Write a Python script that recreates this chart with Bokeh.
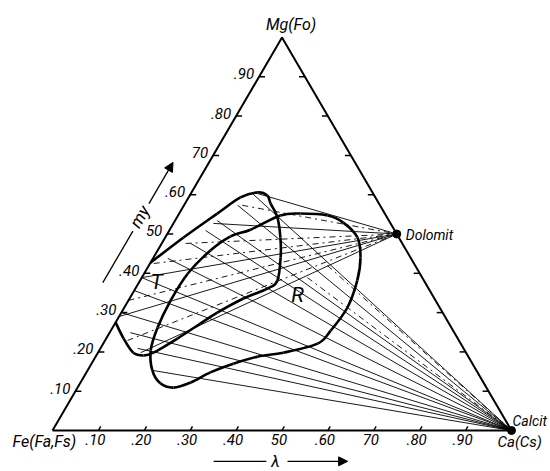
import math
from bokeh.plotting import figure
from bokeh.models import Arrow, NormalHead
from bokeh.core.properties import value
from bokeh.embed import file_html
from bokeh.resources import INLINE

# ---------------- data (percent Ca, percent Mg) ----------------
T_ca = [0, 4.0, 8.3, 11.3, 14.4, 16.9, 18.6, 21.9, 25.1, 27.7, 29.9, 28.8, 24.8,
        20.9, 18.6, 15.5, 12.1, 10.3, 7.7, 3.8, 0]
T_mg = [42.7, 49.1, 55.2, 59.3, 60.6, 59.8, 57.8, 54.2, 49.1, 44.0, 38.2, 36.1, 33.6,
        30.0, 27.2, 23.4, 19.8, 19.1, 19.8, 23.4, 27.5]

R_ca = [17.6, 22.3, 26.4, 32.6, 36.9, 41.9, 45.1, 47.3, 48.6, 47.9, 46.7, 40.4, 35.3,
        30.9, 27.0, 24.0, 20.9, 17.5, 14.1, 11.2, 9.8, 9.2, 9.5, 11.5, 14.1]
R_mg = [51.1, 54.7, 55.2, 54.7, 52.9, 49.1, 44.0, 38.2, 31.3, 25.4, 22.1, 19.8, 18.8,
        17.0, 14.8, 12.2, 10.9, 12.0, 15.3, 20.4, 26.2, 33.1, 39.9, 45.8, 49.4]

# tie lines to calcite
calcit_tie_ca = [13.4, 11.7, 9.2, 7.9, 6.3, 3.2, 0, 0, 0, 4.5, 8.1, 14.1, 36.1, 38.9]
calcit_tie_mg = [60.3, 57.3, 53.4, 50.9, 47.6, 43.8, 38.9, 35.6, 30.0, 24.9, 20.9, 15.3, 38.9, 42.0]
# tie lines to dolomite
dolomit_tie_ca = [14.5, 12.7, 8.7, 5.2, 0.8, 0, 0, 0, 4.9, 9.3]
dolomit_tie_mg = [60.3, 57.3, 52.7, 47.6, 42.5, 38.9, 33.1, 29.0, 22.9, 19.8]

DOLOMIT = (50.0, 50.0)   # (Ca, Mg)
CALCIT = (100.0, 0.0)

left_ticks = [10, 20, 30, 40, 50, 60, 70, 80, 90]
left_labels = [".10", ".20", ".30", ".40", "50", ".60", "70", ".80", ".90"]
bottom_ticks = [10, 20, 30, 40, 50, 60, 70, 80, 90]
bottom_labels = [".10", ".20", ".30", ".40", "50", ".60", "70", ".80", ".90"]
right_ticks = [10, 20, 30, 40, 60, 70, 80, 90]

# ---------------- helpers ----------------
S = math.sqrt(3) / 2

def tern(ca, mg):
    return ca + mg / 2.0, mg * S

def to_xy(cas, mgs):
    pts = [tern(c, m) for c, m in zip(cas, mgs)]
    return [p[0] for p in pts], [p[1] for p in pts]

def bezier_segments(xs, ys, closed):
    n = len(xs)
    P = list(zip(xs, ys))
    def get(i):
        if closed:
            return P[i % n]
        return P[min(max(i, 0), n - 1)]
    segs = dict(x0=[], y0=[], x1=[], y1=[], cx0=[], cy0=[], cx1=[], cy1=[])
    rng = range(n) if closed else range(n - 1)
    for i in rng:
        p0, p1, p2, p3 = get(i - 1), get(i), get(i + 1), get(i + 2)
        segs["x0"].append(p1[0]); segs["y0"].append(p1[1])
        segs["x1"].append(p2[0]); segs["y1"].append(p2[1])
        segs["cx0"].append(p1[0] + (p2[0] - p0[0]) / 6)
        segs["cy0"].append(p1[1] + (p2[1] - p0[1]) / 6)
        segs["cx1"].append(p2[0] - (p3[0] - p1[0]) / 6)
        segs["cy1"].append(p2[1] - (p3[1] - p1[1]) / 6)
    return segs

# ---------------- figure ----------------
PX_X = 4.59
PX_Y = 393 / 86.6025
W, H = 550, 471
x0 = -52 / PX_X
y1 = 430 / PX_Y
p = figure(width=W, height=H, x_range=(x0, x0 + W / PX_X), y_range=(y1 - H / PX_Y, y1),
           min_border=0, toolbar_location=None, output_backend="svg",
           x_axis_location=None, y_axis_location=None)
p.grid.visible = False
p.outline_line_color = None
p.background_fill_color = "white"

FONT = value("Roboto")

# tie lines
cx, cy = tern(*CALCIT)
dx, dy = tern(*DOLOMIT)
txs, tys = to_xy(calcit_tie_ca, calcit_tie_mg)
calc_dash = ["solid"] * 12 + ["dashdot", "dashdot"]
for x, y, d in zip(txs, tys, calc_dash):
    p.line([x, cx], [y, cy], line_color="black", line_width=0.9, line_dash=d)
dxs, dys = to_xy(dolomit_tie_ca, dolomit_tie_mg)
dol_dash = ["solid", "dashdot", "solid", "dashdot", "dashdot", "solid", "dashdot", "solid", "dashdot", "solid"]
for x, y, d in zip(dxs, dys, dol_dash):
    p.line([x, dx], [y, dy], line_color="black", line_width=0.9, line_dash=d)

# curves
tx, ty = to_xy(T_ca, T_mg)
p.bezier(**bezier_segments(tx, ty, False), line_color="black", line_width=2.6)
rx, ry = to_xy(R_ca, R_mg)
p.bezier(**bezier_segments(rx, ry, True), line_color="black", line_width=2.6)

# triangle
vx, vy = to_xy([0, 100, 0, 0], [0, 0, 100, 0])
p.line(vx, vy, line_color="black", line_width=2)

# ticks
TL = 1.3
lx, ly = to_xy([0] * len(left_ticks), left_ticks)
p.segment(lx, ly, [x + TL for x in lx], ly, line_color="black", line_width=1.5)
bx, by = to_xy(bottom_ticks, [0] * len(bottom_ticks))
p.segment(bx, by, [x + 0.5 for x in bx], [y + 0.9 for y in by], line_color="black", line_width=1.5)
rx_, ry_ = to_xy([100 - k for k in right_ticks], right_ticks)
p.segment(rx_, ry_, [x - TL for x in rx_], ry_, line_color="black", line_width=1.5)

# end members
p.scatter([dx, cx], [dy, cy], size=8, color="black")

# tick labels
p.text(lx, ly, text=left_labels, text_align="right", text_baseline="middle",
       x_offset=-5, y_offset=-3, text_font=FONT, text_font_style="italic",
       text_font_size="15px", text_color="black")
p.text(bx, by, text=bottom_labels, text_align="center", text_baseline="top",
       x_offset=-3, y_offset=3, text_font=FONT, text_font_style="italic",
       text_font_size="15px", text_color="black")

# corner / phase labels
fx, fy = tern(0, 0)
mx, my = tern(0, 100)
lab = dict(text_font=FONT, text_font_style="italic", text_color="black")
p.text([mx], [my], text=["Mg(Fo)"], x_offset=-16, y_offset=-13, text_baseline="middle",
       text_font_size="16px", **lab)
p.text([fx], [fy], text=["Fe(Fa,Fs)"], x_offset=-40, y_offset=11, text_baseline="middle",
       text_font_size="16px", **lab)
p.text([cx], [cy], text=["Ca(Cs)"], x_offset=-14, y_offset=11, text_baseline="middle",
       text_font_size="15px", **lab)
p.text([cx], [cy], text=["Calcit"], x_offset=1, y_offset=-10, text_baseline="middle",
       text_font_size="14px", **lab)
p.text([dx], [dy], text=["Dolomit"], x_offset=9, y_offset=1, text_baseline="middle",
       text_font_size="14px", **lab)

T_pos = tern(3.8, 37.7)
R_pos = tern(36.2, 34.4)
p.text([T_pos[0], R_pos[0]], [T_pos[1], R_pos[1]], text=["T", "R"], text_align="center",
       text_baseline="middle", text_font_size="21px", **lab)

# "my" arrow along the left edge
def edge_off(t, off):
    ex, ey = 0.5 * t, S * t
    return ex - S * off, ey + 0.5 * off

OFF = 6.8
a0, a1 = edge_off(33.7, OFF), edge_off(46.8, OFF)
p.line([a0[0], a1[0]], [a0[1], a1[1]], line_color="black", line_width=1.3)
b0, b1 = edge_off(53.8, OFF), edge_off(64.3, OFF)
p.add_layout(Arrow(end=NormalHead(size=9, fill_color="black", line_color="black"),
                   x_start=b0[0], y_start=b0[1], x_end=b1[0], y_end=b1[1],
                   line_color="black", line_width=1.3))
mtx, mty = edge_off(50.3, OFF + 0.3)
p.text([mtx], [mty], text=["my"], angle=math.pi / 3, text_align="center",
       text_baseline="middle", text_font_size="17px", **lab)

# bottom arrow
BY = -6.8
p.line([35.1, 46.6], [BY, BY], line_color="black", line_width=1.3)
p.add_layout(Arrow(end=NormalHead(size=9, fill_color="black", line_color="black"),
                   x_start=51.2, y_start=BY, x_end=64.3, y_end=BY,
                   line_color="black", line_width=1.3))
p.text([48.6], [BY], text=["λ"], text_align="center", text_baseline="middle",
       text_font_size="16px", **lab)

open("out.html", "w").write(file_html(p, INLINE))
